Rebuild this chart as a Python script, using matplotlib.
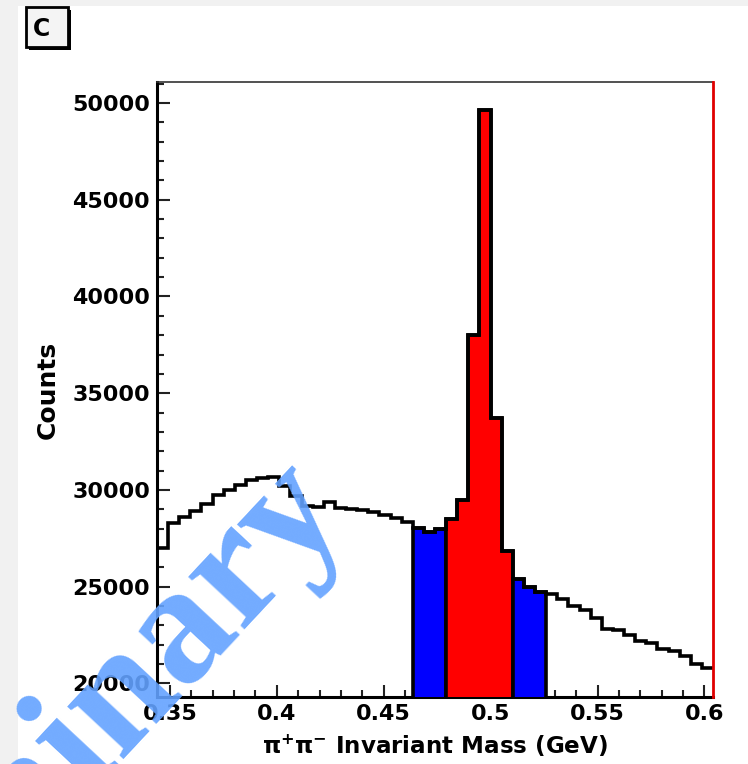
import numpy as np
import matplotlib
matplotlib.use("Agg")
import matplotlib.pyplot as plt
from matplotlib.patches import Rectangle
from matplotlib.ticker import MultipleLocator

# ---------------- data ----------------
mass_lo = 0.344
mass_hi = 0.604
n_bins = 50
counts = [27000, 28300, 28600, 28900, 29300, 29750, 30000, 30250, 30500, 30600,
          30650, 30200, 29700, 29150, 29100, 29400, 29050, 29000, 28950, 28850,
          28700, 28550, 28350, 28050, 27850, 28000, 28500, 29500, 38000, 49650,
          33700, 26850, 25400, 25000, 24750, 24600, 24350, 24000, 23800, 23400,
          22800, 22750, 22500, 22200, 22100, 21800, 21700, 21400, 21000, 20800]
sideband_lo_bins = (23, 26)
signal_bins = (26, 32)
sideband_hi_bins = (32, 35)
x_ticks = [0.35, 0.4, 0.45, 0.5, 0.55, 0.6]
x_ticklabels = ["0.35", "0.4", "0.45", "0.5", "0.55", "0.6"]
y_ticks = [20000, 25000, 30000, 35000, 40000, 45000, 50000]
y_ticklabels = ["20000", "25000", "30000", "35000", "40000", "45000", "50000"]
x_title = "π$^{\\mathbf{+}}$π$^{\\mathbf{-}}$ Invariant Mass (GeV)"
y_title = "Counts"
panel_label = "C"
watermark = "Preliminary"

counts = np.array(counts, dtype=float)
edges = np.linspace(mass_lo, mass_hi, n_bins + 1)

W, H = 748, 764
fig = plt.figure(figsize=(W / 100, H / 100), dpi=100)
fig.patch.set_facecolor("#f1f1f1")
fig.add_artist(Rectangle((18 / W, 0), 1 - 18 / W, 1 - 6 / H, transform=fig.transFigure,
                         facecolor="white", edgecolor="none", zorder=-10))

ax = fig.add_axes([157 / W, 1 - 697 / H, (713 - 157) / W, (697 - 82) / H])
ax.set_facecolor("white")

lw = 2.6
for (a, b), col in [(sideband_lo_bins, "#0000ff"), (signal_bins, "#ff0000"),
                    (sideband_hi_bins, "#0000ff")]:
    ax.stairs(counts[a:b], edges[a:b + 1], fill=True, facecolor=col,
              edgecolor="black", linewidth=lw, baseline=0, zorder=3)
ax.stairs(counts, edges, color="black", linewidth=lw, baseline=None, zorder=4)

ax.set_xlim(mass_lo, mass_hi)
ax.set_ylim(19300, 51085)

tick_font = dict(family="DejaVu Sans", weight="bold", size=16)
ax.set_xticks(x_ticks)
ax.set_xticklabels(x_ticklabels, **tick_font)
ax.set_yticks(y_ticks)
ax.set_yticklabels(y_ticklabels, **tick_font)
ax.xaxis.set_minor_locator(MultipleLocator(0.01))
ax.yaxis.set_minor_locator(MultipleLocator(1000))
ax.tick_params(which="both", direction="in", top=False, right=False, color="#222222")
ax.tick_params(which="major", length=9, width=1.5, pad=5)
ax.tick_params(which="minor", length=5, width=1.5)

for s in ["left", "bottom"]:
    ax.spines[s].set_linewidth(2.2)
    ax.spines[s].set_color("black")
ax.spines["top"].set_linewidth(1.2)
ax.spines["top"].set_color("#333333")
ax.spines["right"].set_linewidth(2.0)
ax.spines["right"].set_color("#e00000")
ax.spines["right"].set_zorder(6)

ax.set_xlabel(x_title, family="DejaVu Sans", weight="bold", size=16.6, labelpad=6)
ax.set_ylabel(y_title, family="DejaVu Sans", weight="bold", size=18, labelpad=9)

# panel label box with shadow
fig.add_artist(Rectangle((29 / W, 1 - 50 / H), 42 / W, 40 / H, transform=fig.transFigure,
                         facecolor="black", edgecolor="none", zorder=5))
fig.add_artist(Rectangle((26 / W, 1 - 47 / H), 42 / W, 40 / H, transform=fig.transFigure,
                         facecolor="#f4f4f4", edgecolor="black", linewidth=2, zorder=6))
fig.text(42 / W, 1 - 29 / H, panel_label, ha="center", va="center",
         family="DejaVu Sans", weight="bold", size=17, zorder=7)

# watermark
fig.text(349 / W, 1 - 514 / H, watermark, rotation=47, rotation_mode="anchor",
         ha="right", va="baseline", family="Liberation Serif", weight="bold",
         size=121, color="#63a2ff", alpha=0.9, zorder=20)

fig.savefig("out.png", dpi=100, facecolor=fig.get_facecolor())
